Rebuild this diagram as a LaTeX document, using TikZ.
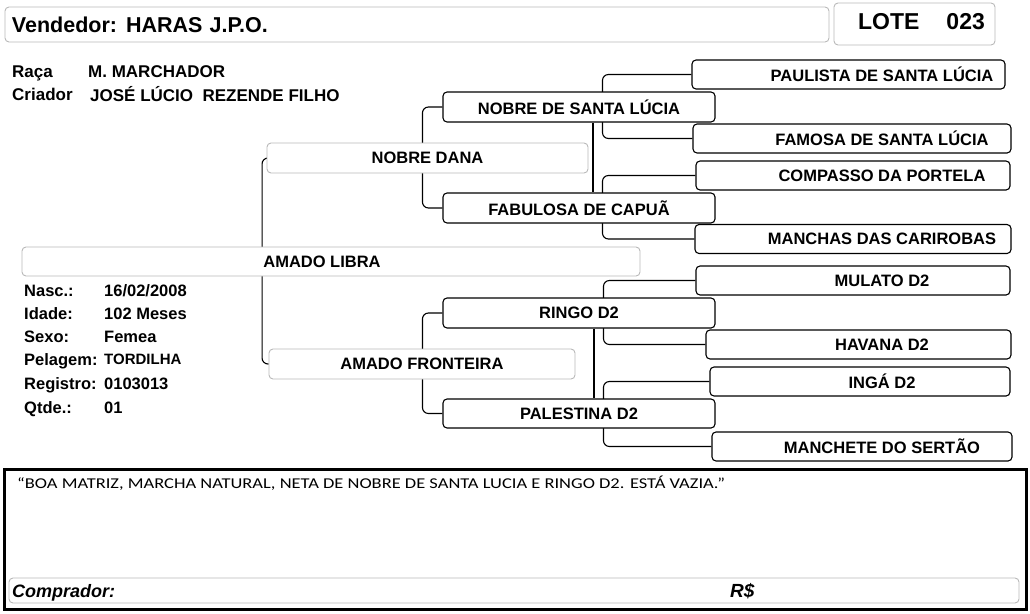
\documentclass[tikz,border=0pt]{standalone}
\usepackage{fontspec}
\setmainfont{Liberation Sans}
\newfontfamily\notefont{Carlito}
\usepackage{graphicx}
\usepackage{tikz}
\usetikzlibrary{positioning,backgrounds}
\newcommand\namefont{\fontsize{16.5}{19}\selectfont\bfseries}
\newcommand\bigfont{\fontsize{21.5}{24}\selectfont\bfseries}
\newcommand\buyfont{\fontsize{18}{20}\selectfont\bfseries\itshape}

\begin{document}
\begin{tikzpicture}[
    x=1pt, y=-1pt,
    gbox/.style={rectangle, draw=gray!55, line width=0.9pt, rounded corners=4pt, fill=white, minimum height=30pt, font=\namefont},
    pbox/.style={rectangle, draw=black, line width=1.1pt, rounded corners=4pt, fill=white, minimum height=29pt, font=\namefont},
    horse/.style={inner sep=0pt, font=\namefont},
    info/.style={anchor=base west, inner sep=0pt, font=\namefont},
    link/.style={draw, line width=1.1pt, rounded corners=6pt}
]
    \useasboundingbox (0,0) rectangle (1030,613);

    % Header
    \node[gbox, text width=810pt, inner xsep=7pt, minimum height=35pt, align=left, font=\bigfont] (vend) at (417,24.5) {Vendedor:\hspace{9pt}HARAS J.P.O.};
    \node[gbox, minimum width=161pt, minimum height=42pt] (lote) at (914.5,24) {};
    \node[font={\fontsize{23}{25}\selectfont\bfseries}, inner sep=0pt] (loteT) at (921.5,22) {LOTE\hspace{27pt}023};

    % Breed and breeder
    \node[info, font={\fontsize{17}{19}\selectfont\bfseries}] (raca) at (12,77.5) {Raça};
    \node[info, font={\fontsize{17}{19}\selectfont\bfseries}] (racaV) at (88,77.5) {M. MARCHADOR};
    \node[info, font={\fontsize{17}{19}\selectfont\bfseries}] (criador) at (12,100) {Criador};
    \node[info, font={\fontsize{17}{19}\selectfont\bfseries}] (criadorV) at (90,101) {JOSÉ LÚCIO~ REZENDE FILHO};

    % Animal
    \node[gbox, minimum width=618pt, minimum height=29pt] (libra) at (331,261.5) {\hspace*{-18pt}AMADO LIBRA};
    \node[info] (nasc) at (24,296) {Nasc.:};
    \node[info] (nascV) at (104,296) {16/02/2008};
    \node[info] (idade) at (24,319) {Idade:};
    \node[info] (idadeV) at (104,319) {102 Meses};
    \node[info] (sexo) at (24,342) {Sexo:};
    \node[info] (sexoV) at (104,342) {Femea};
    \node[info] (pelagem) at (24,365) {Pelagem:};
    \node[info, font={\fontsize{15}{17}\selectfont\bfseries}] (pelagemV) at (104,364) {TORDILHA};
    \node[info] (registro) at (24,389) {Registro:};
    \node[info] (registroV) at (104,389) {0103013};
    \node[info] (qtde) at (24,413) {Qtde.:};
    \node[info] (qtdeV) at (104,413) {01};

    % Parents
    \node[gbox, minimum width=321pt] (dana) at (427.5,158) {NOBRE DANA};
    \node[gbox, minimum width=306pt] (front) at (422,364) {AMADO FRONTEIRA};

    % Grandparents
    \node[pbox, minimum width=272pt, minimum height=30pt] (nsl) at (579,107) {NOBRE DE SANTA LÚCIA};
    \node[pbox, minimum width=272pt, minimum height=30pt] (fab) at (579,208) {FABULOSA DE CAPUÃ};
    \node[pbox, minimum width=272pt, minimum height=30pt] (ringo) at (579,313) {RINGO D2};
    \node[pbox, minimum width=272pt] (pal) at (579,413.5) {PALESTINA D2};

    % Great-grandparents
    \node[pbox, minimum width=313pt] (paul) at (848.5,74.5) {};
    \node[horse] (paulT) at (882,74.5) {PAULISTA DE SANTA LÚCIA};
    \node[pbox, minimum width=318pt] (fam) at (852,138.5) {};
    \node[horse] (famT) at (882,138.5) {FAMOSA DE SANTA LÚCIA};
    \node[pbox, minimum width=314pt] (comp) at (853,175.5) {};
    \node[horse] (compT) at (882,175.5) {COMPASSO DA PORTELA};
    \node[pbox, minimum width=316pt] (manc) at (853,239) {};
    \node[horse] (mancT) at (882,239) {MANCHAS DAS CARIROBAS};
    \node[pbox, minimum width=314pt] (mul) at (853,280.5) {};
    \node[horse] (mulT) at (882,280.5) {MULATO D2};
    \node[pbox, minimum width=305pt] (hav) at (858.5,344.5) {};
    \node[horse] (havT) at (882,344.5) {HAVANA D2};
    \node[pbox, minimum width=300pt] (inga) at (860,381.5) {};
    \node[horse] (ingaT) at (882,381.5) {INGÁ D2};
    \node[pbox, minimum width=300pt] (mche) at (862,446.5) {};
    \node[horse] (mcheT) at (882,446.5) {MANCHETE DO SERTÃO};

    % Connectors
    \begin{scope}[on background layer]
        \draw[link] (dana.west) -- ++(-4.5,0) |- (front.west);
        \draw[link] (nsl.west) -- ++(-20,0) |- (fab.west);
        \draw[link] (ringo.west) -- ++(-20,0) |- (pal.west);
        \draw[link] (paul.west) -- ++(-89,0) |- (fam.west);
        \draw[link] (comp.west) -- ++(-93,0) |- (manc.west);
        \draw[link] (mul.west) -- ++(-92,0) |- (hav.west);
        \draw[link] (inga.west) -- ++(-106,0) |- (mche.west);
        \draw[link] ([xshift=14pt]nsl.south) -- ([xshift=14pt]fab.north);
        \draw[link] ([xshift=15pt]ringo.south) -- ([xshift=15pt]pal.north);
    \end{scope}

    % Remarks and buyer
    \node[draw, line width=2.5pt, minimum width=1022pt, minimum height=140pt, anchor=north west, inner sep=0pt] (obs) at (3,468) {};
    \node[anchor=west, inner sep=0pt, font={\notefont\fontsize{15}{17}\selectfont}] (obsT) at (17,483) {\scalebox{1.23}[1]{“BOA MATRIZ, MARCHA NATURAL, NETA DE NOBRE DE SANTA LUCIA E RINGO D2. ESTÁ VAZIA.”}};
    \node[gbox, text width=1002pt, inner xsep=4pt, minimum height=25pt] (comprador) at (514,590.5) {};
    \node[info, font=\buyfont] (compradorT) at (12,597) {Comprador:};
    \node[info, font={\fontsize{19}{21}\selectfont\bfseries\itshape}] (rs) at (730,597.5) {R\$};
\end{tikzpicture}
\end{document}
